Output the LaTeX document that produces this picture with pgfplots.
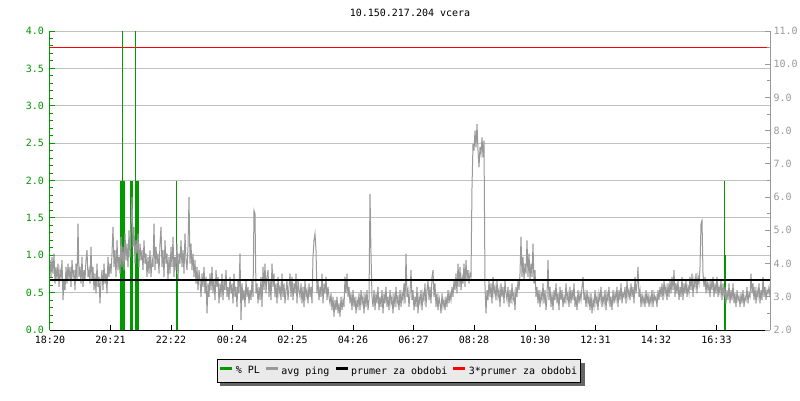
\documentclass[border=0pt]{standalone}
\usepackage{fontspec}
\setmainfont{DejaVu Sans Mono}
\usepackage{pgfplots}
\usepackage{pgfplotstable}
\pgfplotsset{compat=1.18}
\definecolor{plgreen}{RGB}{0,153,0}
\definecolor{pinggray}{RGB}{153,153,153}
\definecolor{gridgray}{RGB}{192,192,192}
\definecolor{legbg}{RGB}{234,234,234}
\pgfdeclarelayer{bottom}
\pgfdeclarelayer{shadow}
\pgfsetlayers{bottom,shadow,main}

% avg ping (ms), one sample every 2 minutes from 18:20 (row index i -> 2i minutes)
\pgfplotstableread[row sep=\\]{
ms\\
4.1\\ 3.6\\ 4.2\\ 3.7\\ 4.3\\ 3.4\\ 3.9\\ 3.5\\ 4.0\\ 3.3\\ 3.8\\ 3.6\\ 4.1\\ 2.9\\ 3.5\\ 3.2\\ 3.9\\ 3.4\\ 4.0\\ 3.5\\
3.9\\ 3.3\\ 4.1\\ 3.6\\ 3.8\\ 3.2\\ 4.0\\ 3.5\\ 5.2\\ 3.6\\ 3.9\\ 3.4\\ 4.2\\ 3.3\\ 3.8\\ 3.5\\ 4.1\\ 4.4\\ 3.6\\ 3.8\\
3.4\\ 4.5\\ 3.5\\ 3.9\\ 3.2\\ 3.7\\ 3.1\\ 4.0\\ 3.3\\ 3.6\\ 2.8\\ 3.5\\ 3.8\\ 3.2\\ 4.0\\ 3.4\\ 3.7\\ 3.1\\ 4.2\\ 3.6\\
4.0\\ 3.7\\ 4.3\\ 5.1\\ 3.9\\ 4.4\\ 3.6\\ 4.7\\ 3.8\\ 4.2\\ 3.7\\ 4.8\\ 3.9\\ 4.5\\ 3.8\\ 4.9\\ 4.1\\ 4.6\\ 3.9\\ 5.0\\
4.2\\ 5.2\\ 6.0\\ 4.5\\ 5.1\\ 4.0\\ 4.7\\ 4.3\\ 4.9\\ 3.9\\ 4.6\\ 4.1\\ 4.4\\ 3.8\\ 4.7\\ 4.0\\ 4.3\\ 3.6\\ 4.2\\ 3.7\\
4.4\\ 3.6\\ 4.1\\ 3.9\\ 5.2\\ 3.8\\ 4.5\\ 4.0\\ 4.3\\ 3.7\\ 4.6\\ 5.1\\ 3.9\\ 4.4\\ 3.6\\ 4.7\\ 4.0\\ 4.3\\ 3.5\\ 4.2\\
3.7\\ 4.5\\ 3.9\\ 4.8\\ 3.6\\ 4.2\\ 3.8\\ 4.6\\ 3.5\\ 4.3\\ 4.0\\ 4.7\\ 3.9\\ 4.4\\ 3.7\\ 4.9\\ 4.1\\ 3.8\\ 4.5\\ 6.0\\
4.0\\ 4.6\\ 3.8\\ 4.3\\ 3.6\\ 4.1\\ 3.4\\ 3.9\\ 3.2\\ 3.8\\ 3.5\\ 3.0\\ 3.7\\ 3.3\\ 3.9\\ 3.1\\ 3.6\\ 2.5\\ 3.4\\ 3.0\\
3.7\\ 3.2\\ 3.9\\ 3.1\\ 3.5\\ 2.9\\ 3.8\\ 3.3\\ 3.6\\ 2.8\\ 3.4\\ 3.0\\ 3.7\\ 2.9\\ 3.5\\ 3.2\\ 3.8\\ 3.0\\ 3.3\\ 2.9\\
3.6\\ 3.1\\ 3.4\\ 2.8\\ 3.7\\ 3.0\\ 3.3\\ 2.7\\ 3.5\\ 3.1\\ 4.3\\ 2.3\\ 3.4\\ 2.9\\ 3.2\\ 2.7\\ 3.5\\ 3.0\\ 3.3\\ 2.8\\
3.2\\ 2.9\\ 3.5\\ 3.0\\ 5.6\\ 5.5\\ 3.1\\ 3.4\\ 2.8\\ 3.3\\ 2.9\\ 3.6\\ 2.7\\ 3.9\\ 3.2\\ 4.0\\ 3.1\\ 3.6\\ 3.8\\ 3.0\\
3.5\\ 2.9\\ 4.0\\ 3.3\\ 3.7\\ 3.0\\ 3.4\\ 2.8\\ 3.6\\ 3.1\\ 3.3\\ 2.9\\ 3.7\\ 3.0\\ 3.4\\ 2.8\\ 3.2\\ 3.5\\ 2.9\\ 3.3\\
3.7\\ 3.0\\ 3.6\\ 2.9\\ 3.4\\ 3.1\\ 3.7\\ 2.8\\ 3.5\\ 3.2\\ 3.0\\ 3.4\\ 2.8\\ 3.3\\ 2.7\\ 3.5\\ 3.0\\ 3.2\\ 2.8\\ 3.4\\
3.0\\ 3.3\\ 2.8\\ 4.2\\ 4.7\\ 4.9\\ 4.4\\ 3.1\\ 3.5\\ 2.9\\ 3.3\\ 3.0\\ 3.7\\ 2.8\\ 3.4\\ 3.1\\ 3.6\\ 2.9\\ 3.3\\ 3.0\\
2.8\\ 3.1\\ 2.6\\ 3.0\\ 2.4\\ 2.9\\ 2.6\\ 3.0\\ 2.5\\ 2.8\\ 2.4\\ 3.0\\ 2.6\\ 2.9\\ 2.7\\ 3.6\\ 3.1\\ 3.7\\ 3.0\\ 3.3\\
2.8\\ 3.1\\ 2.6\\ 3.2\\ 2.7\\ 3.0\\ 2.5\\ 2.9\\ 2.7\\ 3.1\\ 2.6\\ 3.2\\ 2.8\\ 3.0\\ 2.5\\ 3.1\\ 2.7\\ 3.2\\ 2.6\\ 2.9\\
6.1\\ 4.3\\ 3.0\\ 2.7\\ 3.2\\ 2.6\\ 3.1\\ 2.8\\ 3.3\\ 2.6\\ 3.0\\ 2.7\\ 3.2\\ 2.5\\ 3.1\\ 2.8\\ 3.3\\ 2.7\\ 3.0\\ 2.6\\
3.2\\ 2.8\\ 3.0\\ 2.5\\ 3.1\\ 2.7\\ 3.3\\ 2.8\\ 3.0\\ 2.6\\ 3.2\\ 2.7\\ 3.1\\ 2.9\\ 3.4\\ 2.8\\ 4.3\\ 3.0\\ 3.2\\ 2.7\\
3.1\\ 3.8\\ 2.9\\ 3.2\\ 2.6\\ 3.0\\ 2.7\\ 3.3\\ 2.5\\ 3.0\\ 2.8\\ 3.2\\ 2.6\\ 3.1\\ 2.9\\ 3.4\\ 2.7\\ 3.2\\ 3.5\\ 2.9\\
3.3\\ 2.8\\ 3.6\\ 3.8\\ 3.0\\ 3.4\\ 2.7\\ 3.1\\ 2.6\\ 3.0\\ 2.8\\ 2.5\\ 3.1\\ 2.7\\ 2.9\\ 2.6\\ 3.0\\ 2.7\\ 3.2\\ 2.8\\
3.1\\ 2.9\\ 3.3\\ 3.0\\ 3.5\\ 3.2\\ 3.7\\ 3.1\\ 4.0\\ 3.3\\ 3.9\\ 3.2\\ 3.6\\ 3.4\\ 4.0\\ 3.3\\ 4.1\\ 3.5\\ 3.8\\ 3.4\\
3.7\\ 3.6\\ 6.3\\ 7.6\\ 7.4\\ 8.0\\ 7.5\\ 8.2\\ 7.4\\ 6.9\\ 7.5\\ 7.3\\ 7.8\\ 7.2\\ 7.7\\ 3.3\\ 2.5\\ 3.2\\ 2.9\\ 3.5\\
3.0\\ 3.4\\ 2.8\\ 3.6\\ 3.1\\ 3.3\\ 2.9\\ 3.5\\ 3.0\\ 3.2\\ 2.7\\ 3.4\\ 3.0\\ 3.3\\ 2.8\\ 3.5\\ 3.1\\ 2.9\\ 3.3\\ 2.7\\
3.2\\ 2.8\\ 3.4\\ 2.9\\ 3.1\\ 2.6\\ 3.3\\ 3.0\\ 3.5\\ 3.2\\ 3.7\\ 4.8\\ 3.6\\ 4.2\\ 3.5\\ 4.0\\ 3.7\\ 4.7\\ 3.6\\ 4.3\\
3.5\\ 4.0\\ 3.6\\ 4.6\\ 3.4\\ 3.8\\ 3.0\\ 3.3\\ 2.8\\ 3.2\\ 2.7\\ 3.1\\ 2.9\\ 3.4\\ 2.8\\ 3.2\\ 2.6\\ 3.0\\ 4.1\\ 2.9\\
3.3\\ 2.7\\ 3.1\\ 2.6\\ 3.2\\ 2.9\\ 3.4\\ 2.8\\ 3.1\\ 2.6\\ 3.3\\ 2.9\\ 3.2\\ 2.7\\ 3.0\\ 2.8\\ 3.4\\ 2.9\\ 3.1\\ 2.7\\
3.3\\ 2.8\\ 3.2\\ 2.9\\ 3.4\\ 2.7\\ 3.0\\ 2.6\\ 3.2\\ 2.8\\ 3.1\\ 2.9\\ 3.3\\ 3.6\\ 2.9\\ 3.1\\ 2.7\\ 3.2\\ 2.8\\ 3.0\\
2.6\\ 3.1\\ 2.5\\ 2.9\\ 2.7\\ 3.2\\ 2.8\\ 3.0\\ 2.6\\ 3.1\\ 2.9\\ 3.3\\ 2.7\\ 3.0\\ 2.8\\ 3.2\\ 2.6\\ 3.1\\ 2.9\\ 3.3\\
2.7\\ 3.0\\ 2.6\\ 3.2\\ 2.8\\ 3.1\\ 2.9\\ 3.3\\ 2.7\\ 3.2\\ 2.9\\ 3.4\\ 2.8\\ 3.1\\ 3.0\\ 3.3\\ 2.8\\ 3.5\\ 3.0\\ 3.2\\
2.9\\ 3.4\\ 3.0\\ 3.3\\ 2.8\\ 3.6\\ 3.1\\ 3.4\\ 3.9\\ 3.0\\ 3.2\\ 2.7\\ 3.1\\ 2.8\\ 3.0\\ 2.7\\ 3.2\\ 2.8\\ 3.1\\ 2.7\\
3.0\\ 2.8\\ 3.2\\ 2.7\\ 3.1\\ 2.9\\ 3.0\\ 2.7\\ 3.2\\ 2.9\\ 3.3\\ 3.0\\ 3.4\\ 2.9\\ 3.5\\ 3.1\\ 3.3\\ 2.9\\ 3.4\\ 3.0\\
3.5\\ 3.1\\ 3.6\\ 3.2\\ 3.8\\ 3.0\\ 3.4\\ 3.1\\ 3.5\\ 2.9\\ 3.3\\ 3.0\\ 3.6\\ 2.9\\ 3.4\\ 3.1\\ 3.5\\ 3.0\\ 3.3\\ 3.1\\
3.6\\ 3.2\\ 3.7\\ 3.0\\ 3.5\\ 3.3\\ 3.7\\ 3.1\\ 3.6\\ 3.4\\ 3.9\\ 5.2\\ 5.3\\ 3.7\\ 3.3\\ 3.6\\ 3.1\\ 3.5\\ 3.2\\ 3.4\\
3.0\\ 3.5\\ 3.2\\ 3.6\\ 3.0\\ 3.4\\ 3.1\\ 3.6\\ 3.0\\ 3.3\\ 3.1\\ 3.5\\ 2.9\\ 3.4\\ 3.0\\ 3.3\\ 2.8\\ 3.2\\ 2.9\\ 3.4\\
2.8\\ 3.2\\ 2.9\\ 3.4\\ 2.8\\ 3.1\\ 2.7\\ 3.2\\ 2.9\\ 3.0\\ 2.7\\ 3.1\\ 2.8\\ 3.2\\ 2.7\\ 3.0\\ 2.9\\ 3.3\\ 2.8\\ 3.1\\
3.0\\ 3.7\\ 3.1\\ 3.4\\ 2.9\\ 3.3\\ 2.8\\ 3.2\\ 3.0\\ 3.4\\ 2.8\\ 3.2\\ 2.9\\ 3.6\\ 3.0\\ 3.3\\ 2.9\\ 3.2\\ 3.1\\ 3.3\\
3.0\\
}\pingdata

% packet loss (%) at nonzero samples; time = (px-50)*2 minutes after 18:20
\pgfplotstableread{
px pl
120 2
121 2
122 4
123 2
124 2
130 2
131 2
132 2
135 4
136 2
137 2
138 2
176 2
177 0.75
724 2
725 1
}\pldata

\pgfplotsset{
  /pgf/number format/assume math mode=true,
  every axis/.append style={font=\fontsize{10pt}{12pt}\selectfont},
}

\begin{document}
\fontsize{10pt}{12pt}\selectfont
\begin{tikzpicture}
\useasboundingbox (0,0) rectangle (800pt,400pt);
\begin{pgfonlayer}{bottom}
\fill[white] (0,0) rectangle (800pt,400pt);
\end{pgfonlayer}
\node[font=\fontsize{10pt}{12pt}\selectfont] at (410pt,387pt) {10.150.217.204 vcera};

\begin{axis}[
  at={(50pt,70pt)}, anchor=south west, scale only axis,
  width=720pt, height=299pt,
  xmin=0, xmax=1440, ymin=0, ymax=4,
  axis x line*=bottom, axis y line*=left,
  x axis line style={black, line width=1pt, -},
  y axis line style={plgreen, line width=1pt, -},
  xtick={0,121,242,364,485,606,727,848,970,1091,1212,1333},
  xticklabels={18:20,20:21,22:22,00:24,02:25,04:26,06:27,08:28,10:30,12:31,14:32,16:33},
  ytick={0,0.5,1,1.5,2,2.5,3,3.5,4},
  minor y tick num=4,
  ymajorgrids, major grid style={gridgray, line width=1pt},
  tick align=inside,
  major tick length=5.5pt, minor tick length=3pt,
  xtick style={black, line width=1pt},
  ytick style={plgreen, line width=1pt},
  minor y tick style={plgreen, line width=1pt},
  xticklabel style={black, yshift=-2.5pt},
  yticklabel style={plgreen, xshift=-2.5pt, /pgf/number format/.cd, fixed, fixed zerofill, precision=1},
]
\addplot[red, line width=1pt, no markers] coordinates {(0,3.778) (1440,3.778)};
\addplot[plgreen, line width=1pt, ycomb, no markers]
  table[x expr={(\thisrow{px}-50)*2}, y=pl] {\pldata};
\end{axis}

\begin{axis}[
  at={(50pt,70pt)}, anchor=south west, scale only axis,
  width=720pt, height=299pt,
  xmin=0, xmax=1440, ymin=2, ymax=11,
  axis y line*=right, axis x line=none,
  y axis line style={pinggray, line width=1pt, -},
  ytick={2,3,4,5,6,7,8,9,10,11},
  minor y tick num=1,
  tick align=inside,
  major tick length=5pt, minor tick length=3pt,
  ytick style={pinggray, line width=1pt},
  minor y tick style={pinggray, line width=1pt},
  yticklabel style={pinggray, /pgf/number format/.cd, fixed, fixed zerofill, precision=1},
  legend columns=4,
  legend style={name=pinglegend, at={(0.4847,-0.137)}, anchor=center, draw=black, line width=1pt,
    fill=legbg, inner xsep=3pt, inner ysep=6pt,
    font=\fontsize{10pt}{12pt}\selectfont,
    nodes={inner sep=0.5pt},
    /tikz/every odd column/.append style={column sep=3pt},
    /tikz/every even column/.append style={column sep=5.5pt}},
  legend image code/.code={\fill[#1] (0pt,1.5pt) rectangle (11pt,3.5pt);},
]
\addlegendimage{plgreen}
\addlegendimage{pinggray}
\addlegendimage{black}
\addlegendimage{red}
\addplot[pinggray, line width=1pt, no markers]
  table[x expr={\coordindex*2}, y=ms] {\pingdata};
\addplot[black, line width=2.5pt, no markers] coordinates {(0,3.5) (1440,3.5)};
\legend{\% PL, avg ping, prumer za obdobi, 3*prumer za obdobi}
\end{axis}
\begin{pgfonlayer}{shadow}
\fill[black!60] ([shift={(3.5pt,-3.5pt)}]pinglegend.south west) rectangle ([shift={(3.5pt,-3.5pt)}]pinglegend.north east);
\end{pgfonlayer}
\end{tikzpicture}
\end{document}
